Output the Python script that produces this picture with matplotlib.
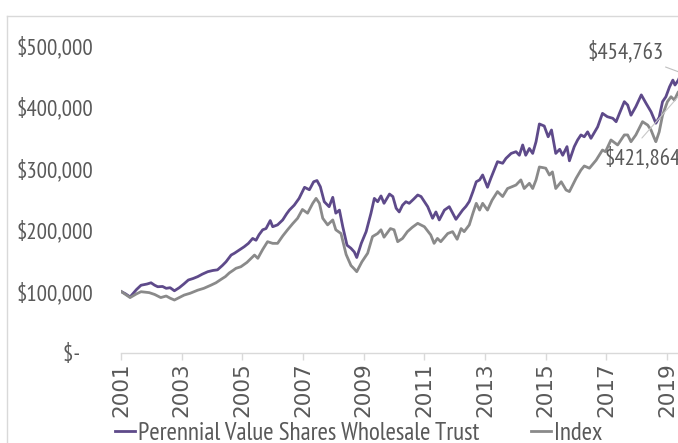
import matplotlib
matplotlib.use("Agg")
import matplotlib.pyplot as plt
from matplotlib.lines import Line2D
from matplotlib import font_manager as fm

names = {f.name for f in fm.fontManager.ttflist}
FONT = next((n for n in ["PT Sans Narrow", "Roboto Condensed", "Fira Sans Condensed",
                         "Asap Condensed", "Liberation Sans"] if n in names), "DejaVu Sans")
XFONT = "DejaVu Sans"

# ---------------- data (values in $) ----------------
fund_t = [2001.00, 2001.15, 2001.30, 2001.51, 2001.66, 2001.86, 2001.99, 2002.11, 2002.21, 2002.37,
          2002.49, 2002.62, 2002.76, 2002.92, 2003.07, 2003.22, 2003.38, 2003.53, 2003.68, 2003.86,
          2004.03, 2004.18, 2004.34, 2004.46, 2004.63, 2004.74, 2004.89, 2005.06, 2005.20, 2005.34,
          2005.45, 2005.55, 2005.67, 2005.78, 2005.92, 2006.00, 2006.16, 2006.33, 2006.46, 2006.55,
          2006.71, 2006.87, 2007.05, 2007.21, 2007.35, 2007.46, 2007.57, 2007.70, 2007.86, 2007.98,
          2008.08, 2008.20, 2008.31, 2008.45, 2008.58, 2008.69, 2008.77, 2008.92, 2009.08, 2009.24,
          2009.35, 2009.46, 2009.57, 2009.67, 2009.85, 2009.96, 2010.07, 2010.17, 2010.28, 2010.39,
          2010.50, 2010.65, 2010.78, 2010.89, 2011.11, 2011.27, 2011.38, 2011.49, 2011.66, 2011.82,
          2012.04, 2012.26, 2012.37, 2012.48, 2012.60, 2012.71, 2012.82, 2012.92, 2013.08, 2013.19,
          2013.30, 2013.41, 2013.58, 2013.69, 2013.86, 2014.02, 2014.13, 2014.24, 2014.34, 2014.46,
          2014.57, 2014.68, 2014.79, 2014.95, 2015.08, 2015.19, 2015.33, 2015.46, 2015.56, 2015.70,
          2015.78, 2015.94, 2016.05, 2016.16, 2016.27, 2016.38, 2016.49, 2016.71, 2016.87, 2017.03,
          2017.21, 2017.32, 2017.43, 2017.59, 2017.70, 2017.81, 2017.97, 2018.15, 2018.31, 2018.47,
          2018.63, 2018.74, 2018.85, 2018.96, 2019.08, 2019.19, 2019.26, 2019.37, 2019.47]
fund_v = [100000, 96000, 91000, 103000, 110000, 112000, 114000, 110000, 107600, 108000,
          105000, 106000, 101000, 106000, 112000, 118500, 121000, 124000, 128000, 132000,
          134000, 135000, 142000, 148000, 159000, 162000, 167000, 172500, 178000, 186000,
          183000, 192000, 200000, 202000, 215000, 205000, 208000, 216000, 226000, 232000,
          240000, 251000, 269000, 265000, 278000, 280000, 270000, 245600, 237500, 252700,
          227000, 232000, 205000, 175000, 170000, 164000, 155000, 178000, 197000, 227000,
          251000, 245600, 255000, 243000, 258000, 254000, 235000, 229000, 240000, 245600,
          243000, 250000, 256500, 254000, 237500, 218700, 229000, 216000, 232000, 237500,
          217000, 232000, 238000, 246000, 262000, 278000, 281000, 289000, 269000, 283600,
          297000, 310600, 308000, 316000, 324000, 326800, 321000, 337700, 321000, 332000,
          324000, 343000, 371800, 368500, 351000, 362000, 324000, 330700, 321000, 335000,
          312000, 335000, 345800, 354000, 351000, 359000, 348500, 367000, 389000, 383600,
          381000, 375500, 389000, 408000, 402600, 386000, 400000, 419000, 405000, 391700,
          373000, 382600, 408000, 416000, 432000, 443000, 435000, 443000, 454763]

index_t = [2001.00, 2001.15, 2001.30, 2001.51, 2001.66, 2001.93, 2002.11, 2002.31, 2002.49, 2002.62,
           2002.76, 2002.92, 2003.08, 2003.28, 2003.53, 2003.73, 2003.96, 2004.13, 2004.30, 2004.44,
           2004.57, 2004.69, 2004.79, 2004.95, 2005.15, 2005.29, 2005.40, 2005.51, 2005.67, 2005.83,
           2006.00, 2006.16, 2006.33, 2006.49, 2006.66, 2006.82, 2006.98, 2007.15, 2007.32, 2007.43,
           2007.54, 2007.65, 2007.81, 2007.98, 2008.08, 2008.25, 2008.42, 2008.58, 2008.68, 2008.77,
           2008.94, 2009.13, 2009.29, 2009.46, 2009.57, 2009.67, 2009.88, 2010.00, 2010.12, 2010.28,
           2010.44, 2010.60, 2010.78, 2011.00, 2011.21, 2011.32, 2011.43, 2011.54, 2011.77, 2011.93,
           2012.08, 2012.21, 2012.31, 2012.48, 2012.60, 2012.71, 2012.82, 2012.92, 2013.08, 2013.23,
           2013.41, 2013.58, 2013.74, 2013.89, 2014.02, 2014.18, 2014.29, 2014.46, 2014.57, 2014.68,
           2014.79, 2014.90, 2015.00, 2015.12, 2015.22, 2015.33, 2015.51, 2015.67, 2015.78, 2016.00,
           2016.16, 2016.27, 2016.44, 2016.66, 2016.87, 2016.97, 2017.15, 2017.37, 2017.59, 2017.70,
           2017.81, 2017.97, 2018.19, 2018.36, 2018.47, 2018.58, 2018.63, 2018.74, 2018.85, 2019.01,
           2019.13, 2019.24, 2019.37, 2019.47]
index_v = [100000, 95000, 90000, 96000, 99500, 98000, 95000, 90000, 92500, 89000,
           86000, 90000, 94000, 97000, 102000, 105000, 110000, 114000, 119600, 124000,
           130000, 134000, 137500, 140000, 147000, 153700, 159000, 153700, 168000, 180700,
           178000, 178000, 190000, 200000, 210000, 218700, 233000, 227000, 243000, 251000,
           243000, 218700, 208000, 216000, 200000, 194000, 160000, 142000, 137000, 132000,
           148000, 162000, 189000, 194000, 200000, 188000, 202000, 200000, 180700, 186000,
           197000, 204000, 210500, 205000, 191600, 178000, 186000, 180700, 194000, 197000,
           184600, 202000, 197000, 208000, 227000, 243000, 232000, 243000, 232000, 248000,
           262000, 254000, 267000, 270000, 272700, 281000, 267000, 275500, 267000, 281000,
           302000, 301000, 300000, 289000, 294000, 267000, 278000, 264600, 262000, 283600,
           297000, 303600, 300000, 313000, 329500, 326800, 345800, 337700, 354000, 354000,
           343000, 354000, 375500, 370000, 362000, 348500, 343000, 359000, 386000, 408000,
           416000, 410700, 424000, 421864]

series_names = ["Perennial Value Shares Wholesale Trust", "Index"]
end_labels = ["$454,763", "$421,864"]
year_ticks = [2001, 2003, 2005, 2007, 2009, 2011, 2013, 2015, 2017, 2019]
y_ticks = [0, 100000, 200000, 300000, 400000, 500000]
y_labels = ["$-   ", "$100,000", "$200,000", "$300,000", "$400,000", "$500,000"]

PURPLE = "#5e4a8a"
GRAY = "#8a8a8a"
TEXT = "#595959"
LIGHT = "#d9d9d9"
FS = 16.5
LFS = 18

W, H = 678, 443
fig = plt.figure(figsize=(W / 100, H / 100), dpi=100)
fig.patch.set_facecolor("white")

x0, x1 = 121, 685.3
ax = fig.add_axes([x0 / W, (H - 353) / H, (x1 - x0) / W, (353 - 45) / H])
ax.set_xlim(2001, 2019.6)
ax.set_ylim(0, 500000)

l1, = ax.plot(fund_t, fund_v, color=PURPLE, lw=2.0, solid_joinstyle="round")
l2, = ax.plot(index_t, index_v, color=GRAY, lw=2.0, solid_joinstyle="round")

for s in ["top", "right", "left"]:
    ax.spines[s].set_visible(False)
ax.spines["bottom"].set_color(LIGHT)
ax.spines["bottom"].set_linewidth(1.0)

ax.set_xticks(year_ticks)
ax.set_xticklabels([str(y) for y in year_ticks], rotation=90, fontsize=15.5,
                   family=XFONT, color=TEXT)
ax.tick_params(axis="x", length=5, color=LIGHT, width=1.0, pad=2)
ax.set_yticks(y_ticks)
ax.set_yticklabels(y_labels, fontsize=FS, family=FONT, color=TEXT)
ax.tick_params(axis="y", length=0, pad=20)

# end-value labels with leader lines
ax.annotate(end_labels[0], xy=(fund_t[-1], fund_v[-1]), xytext=(2018.90, 488000),
            ha="right", va="center", fontsize=FS, family=FONT, color=TEXT,
            arrowprops=dict(arrowstyle="-", color="#bfbfbf", lw=0.8, shrinkA=1, shrinkB=0),
            annotation_clip=False)
ax.annotate(end_labels[1], xy=(index_t[-1], index_v[-1]), xytext=(2016.95, 316600),
            ha="left", va="center", fontsize=FS, family=FONT, color=TEXT,
            annotation_clip=False)
ax.annotate("", xy=(index_t[-1], index_v[-1]), xytext=(2018.17, 349000),
            arrowprops=dict(arrowstyle="-", color="#c8c8c8", lw=0.8, shrinkA=0, shrinkB=0),
            annotation_clip=False)

# legend
leg = fig.legend([l1, l2], series_names, loc="center left",
                 bbox_to_anchor=(115 / W, 1 - 433 / H), ncol=2, frameon=False,
                 handlelength=0.8, handletextpad=0.1, columnspacing=2.1, borderpad=0,
                 prop=dict(family=FONT, size=LFS), labelcolor=TEXT, borderaxespad=0)

# chart-area border
fig.add_artist(Line2D([7 / W, 1.0], [1 - 16 / H, 1 - 16 / H], color=LIGHT, lw=1.0))
fig.add_artist(Line2D([7 / W, 7 / W], [1 - 16 / H, 0], color=LIGHT, lw=1.0))

fig.savefig("out.png", dpi=100, facecolor="white")
